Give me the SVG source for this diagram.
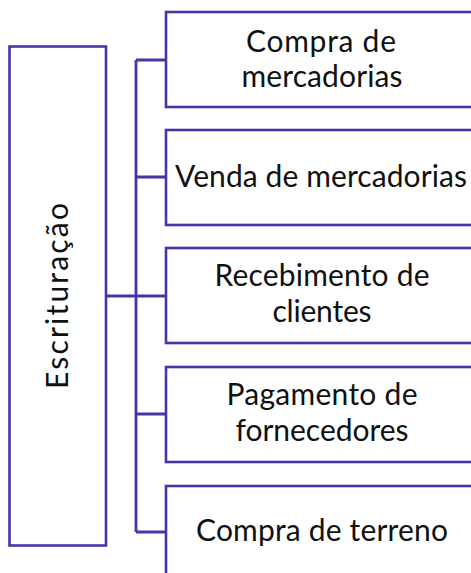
<svg xmlns="http://www.w3.org/2000/svg" width="471" height="573" viewBox="0 0 471 573">
<style>
.box{fill:#ffffff;stroke:#4535a8;stroke-width:2.6}
.edge{fill:none;stroke:#4535a8;stroke-width:2.8}
.lbl{font-family:Lato,"Liberation Sans",sans-serif;font-size:30px;fill:#111111;text-anchor:middle}
</style>
<rect width="471" height="573" fill="#ffffff"/>
<g id="connectors">
<path class="edge" d="M106 296H136M136 60V532M136 60H166M136 177H166M136 296H166M136 414H166M136 532H166"/>
</g>
<g id="root">
<rect class="box" x="9.5" y="46.5" width="96.5" height="499"/>
<text class="lbl" font-size="32" transform="translate(68 296) rotate(-90)" x="0" y="0" textLength="186" lengthAdjust="spacing">Escrituração</text>
</g>
<g id="n1">
<rect class="box" x="166" y="12" width="320" height="95"/>
<text class="lbl" x="321" y="52" textLength="150" lengthAdjust="spacing">Compra de</text>
<text class="lbl" x="322" y="87" textLength="161" lengthAdjust="spacing">mercadorias</text>
</g>
<g id="n2">
<rect class="box" x="166" y="130" width="320" height="95"/>
<text class="lbl" x="321" y="187" textLength="292" lengthAdjust="spacing">Venda de mercadorias</text>
</g>
<g id="n3">
<rect class="box" x="166" y="248" width="320" height="95"/>
<text class="lbl" x="322" y="286" textLength="215" lengthAdjust="spacing">Recebimento de</text>
<text class="lbl" x="322" y="322" textLength="99" lengthAdjust="spacing">clientes</text>
</g>
<g id="n4">
<rect class="box" x="166" y="367" width="320" height="95"/>
<text class="lbl" x="322" y="405" textLength="191" lengthAdjust="spacing">Pagamento de</text>
<text class="lbl" x="322" y="441" textLength="173" lengthAdjust="spacing">fornecedores</text>
</g>
<g id="n5">
<rect class="box" x="166" y="486" width="320" height="100"/>
<text class="lbl" x="322" y="541" textLength="252" lengthAdjust="spacing">Compra de terreno</text>
</g>
</svg>
